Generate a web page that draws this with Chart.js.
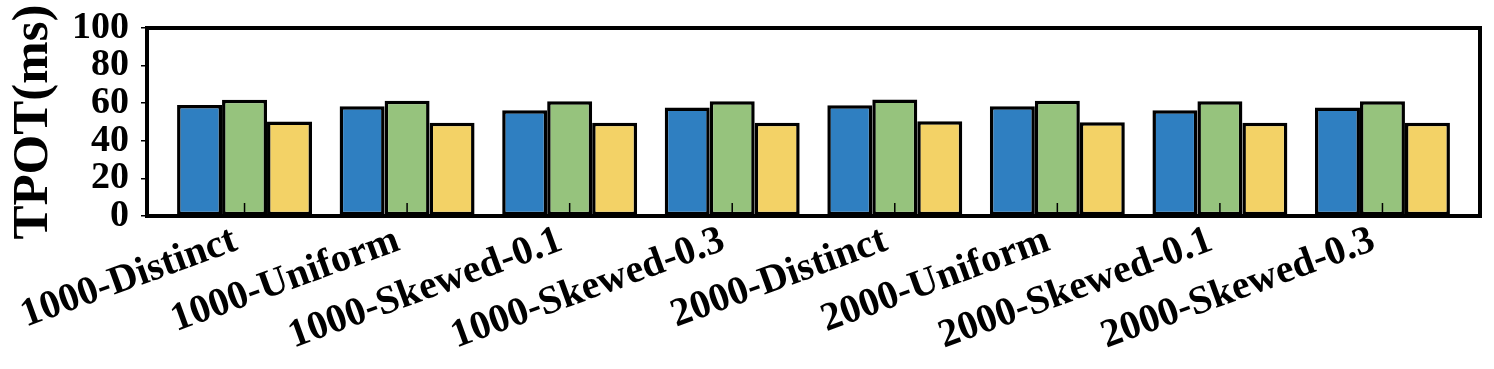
<!DOCTYPE html>
<html>
<head>
<meta charset="utf-8">
<script src="https://cdn.jsdelivr.net/npm/chart.js@4/dist/chart.umd.min.js"></script>
<style>
  html, body { margin: 0; padding: 0; background: #fff; }
  canvas { display: block; }
</style>
</head>
<body>
<canvas id="chart" width="1494" height="369"></canvas>
<script>
const categories = ['1000-Distinct', '1000-Uniform', '1000-Skewed-0.1', '1000-Skewed-0.3',
  '2000-Distinct', '2000-Uniform', '2000-Skewed-0.1', '2000-Skewed-0.3']
const blueValues = [59.0, 58.4, 56.3, 57.7, 58.9, 58.4, 56.3, 57.7]
const greenValues = [61.8, 61.3, 61.1, 61.1, 62.0, 61.3, 61.1, 61.1]
const yellowValues = [50.2, 49.6, 49.6, 49.6, 50.4, 49.9, 49.6, 49.6]
const yTicks = [0, 20, 40, 60, 80, 100]

const serif = '"Liberation Serif", "Times New Roman", serif'

// bars sit on a linear x scale so the side margins can match the original
const toPoints = (arr) => arr.map((v, i) => ({x: i, y: v}))

// frame around the plot and the small inward x ticks
const framePlugin = {
  id: 'frame',
  afterDatasetsDraw(chart) {
    const {ctx, chartArea: a, scales} = chart
    ctx.save()
    ctx.strokeStyle = '#000'
    ctx.lineWidth = 1.5
    categories.forEach((c, i) => {
      const x = scales.x.getPixelForValue(i)
      ctx.beginPath()
      ctx.moveTo(x, a.bottom)
      ctx.lineTo(x, a.bottom - 13)
      ctx.stroke()
    })
    ctx.lineWidth = 4
    ctx.strokeRect(a.left, a.top, a.right - a.left, a.bottom - a.top)
    ctx.restore()
  },
}

const barStyle = {borderColor: '#000', borderWidth: 3.5, borderSkipped: false,
  categoryPercentage: 0.83, barPercentage: 1.0}

new Chart(document.getElementById('chart'), {
  type: 'bar',
  data: {
    datasets: [
      {label: 'A', data: toPoints(blueValues), backgroundColor: '#2F7FC1', ...barStyle},
      {label: 'B', data: toPoints(greenValues), backgroundColor: '#96C37D', ...barStyle},
      {label: 'C', data: toPoints(yellowValues), backgroundColor: '#F3D266', ...barStyle},
    ],
  },
  options: {
    responsive: false,
    animation: false,
    layout: {padding: {top: 28, right: 14, left: 0, bottom: 0}},
    plugins: {legend: {display: false}, tooltip: {enabled: false}},
    scales: {
      x: {
        type: 'linear',
        offset: false,
        min: -0.6,
        max: categories.length - 1 + 0.6,
        grid: {display: false, drawTicks: false},
        border: {display: false},
        afterBuildTicks: (scale) => {
          scale.ticks = categories.map((c, i) => ({value: i}))
        },
        afterFit: (scale) => {
          scale.height = 153
        },
        ticks: {
          autoSkip: false,
          minRotation: 20,
          maxRotation: 20,
          padding: 1,
          labelOffset: -9,
          color: '#000',
          font: {family: serif, size: 40, weight: 'bold'},
          callback: (v) => categories[v] || '',
        },
      },
      y: {
        min: 0,
        max: 100,
        afterBuildTicks: (scale) => {
          scale.ticks = yTicks.map((v) => ({value: v}))
        },
        afterFit: (scale) => {
          scale.width = 147
          scale.paddingTop = 0
          scale.paddingBottom = 0
        },
        grid: {drawOnChartArea: false, drawTicks: true, tickLength: 6, color: '#000', lineWidth: 1.5},
        border: {display: false},
        ticks: {
          autoSkip: false,
          padding: 12,
          color: '#000',
          font: {family: serif, size: 38, weight: 'bold', lineHeight: 1},
        },
        title: {
          display: true,
          text: 'TPOT(ms)',
          color: '#000',
          padding: {top: 3, bottom: 0},
          font: {family: serif, size: 51, weight: 'bold'},
        },
      },
    },
  },
  plugins: [framePlugin],
})
</script>
</body>
</html>
